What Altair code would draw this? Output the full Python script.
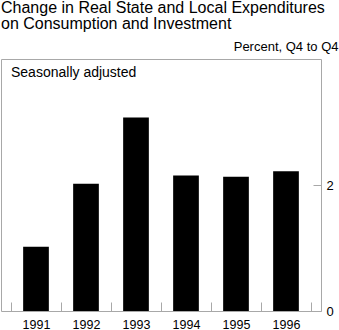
import altair as alt
import pandas as pd

years = ["1991", "1992", "1993", "1994", "1995", "1996"]
values = [1.02, 2.02, 3.07, 2.15, 2.13, 2.22]
y_ticks = [0, 2]
title_lines = ["Change in Real State and Local Expenditures", "on Consumption and Investment"]
unit_label = "Percent, Q4 to Q4"
note = ["Seasonally adjusted"]

df = pd.DataFrame({"year": years, "value": values})
FONT = "Liberation Sans"
GRAY = "#a8a8a8"

bars = alt.Chart(df).mark_bar(color="black", width=alt.RelativeBandSize(0.514)).encode(
    x=alt.X("year:N", sort=years,
            scale=alt.Scale(paddingInner=0, paddingOuter=0.2),
            axis=alt.Axis(title=None, labelAngle=0, tickBand="extent",
                          tickSize={"expr": "-9"}, tickColor=GRAY, domain=False,
                          labelFont=FONT, labelFontSize=12.5, labelColor="black",
                          labelPadding=16)),
    y=alt.Y("value:Q", scale=alt.Scale(domain=[0, 4], nice=False),
            axis=alt.Axis(orient="right", values=y_ticks, grid=False, domain=False,
                          tickSize={"expr": "-8"}, tickColor=GRAY,
                          labelFont=FONT, labelFontSize=13, labelColor="black",
                          labelPadding=13,
                          title=unit_label, titleAngle=0, titleAlign="right",
                          titleBaseline="alphabetic", titleX=17, titleY=-9,
                          titleFont=FONT, titleFontSize=13, titleFontWeight="normal",
                          titleColor="black")),
)

txt = alt.Chart(pd.DataFrame({"t": note})).mark_text(
    align="left", baseline="alphabetic", font=FONT, fontSize=14, color="black"
).encode(text="t:N", x=alt.value(10), y=alt.value(18))

chart = alt.layer(bars, txt).properties(
    width=320, height=252,
    autosize=alt.AutoSizeParams(type="none"),
    padding={"left": 1, "top": 59, "right": 18, "bottom": 19},
    title=alt.TitleParams(title_lines, anchor="start", font=FONT, fontSize=16,
                          fontWeight="normal", color="black", lineHeight=16, offset=8),
).configure_view(stroke=GRAY, strokeWidth=1)

chart.save("out.html", embed_options={"renderer": "svg", "actions": False})
